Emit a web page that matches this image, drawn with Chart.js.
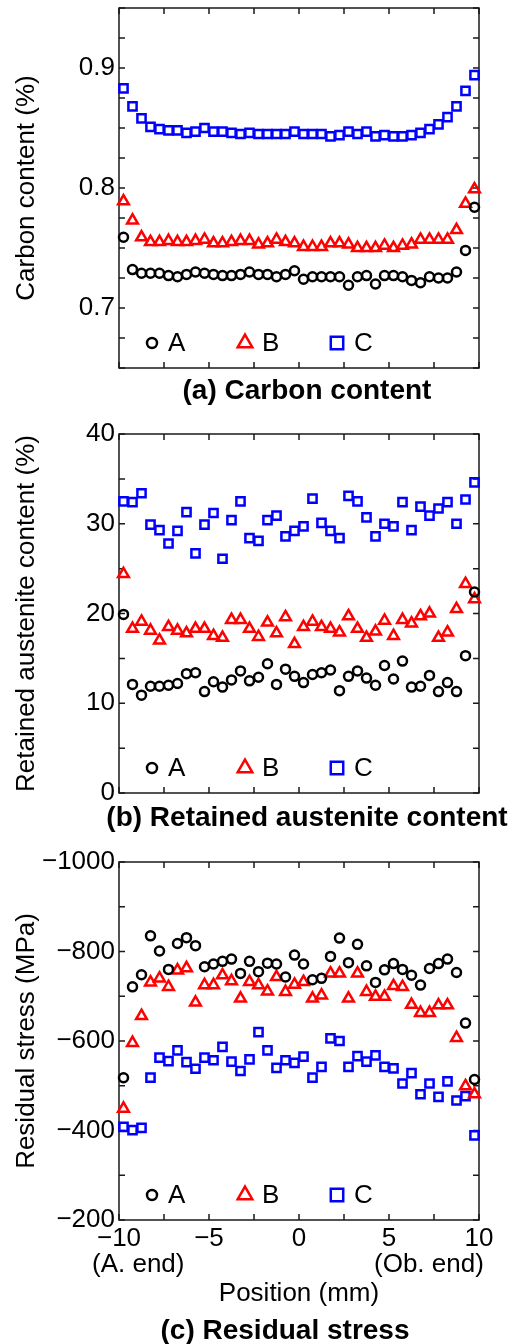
<!DOCTYPE html>
<html>
<head>
<meta charset="utf-8">
<title>Carbon content, retained austenite and residual stress</title>
<script src="https://cdn.jsdelivr.net/npm/chart.js@4.4.1/dist/chart.umd.min.js"></script>
<style>
  html, body { margin: 0; padding: 0; background: #fff; }
  #page { position: relative; width: 509px; height: 1344px; overflow: hidden;
          font-family: "Liberation Sans", Arial, sans-serif; color: #000; }
  #page canvas { position: absolute; left: 0; }
  .caption { position: absolute; width: 500px; text-align: center; white-space: nowrap;
             font-weight: bold; font-size: 28px; line-height: 32px; }
  .endnote { position: absolute; white-space: nowrap; font-size: 26px; line-height: 30px; }
</style>
</head>
<body>
<div id="page">
  <canvas id="carbon" width="509" height="400" style="top:-12px"></canvas>
  <canvas id="austenite" width="509" height="399" style="top:414px"></canvas>
  <canvas id="stress" width="509" height="502" style="top:842px"></canvas>
  <div class="caption" style="left:57px; top:374px">(a) Carbon content</div>
  <div class="caption" style="left:57px; top:801px">(b) Retained austenite content</div>
  <div class="caption" style="left:35px; top:1314px">(c) Residual stress</div>
  <div class="endnote" style="left:92px; top:1248px">(A. end)</div>
  <div class="endnote" style="left:374px; top:1248px">(Ob. end)</div>
</div>
<script>
// measuring positions along the specimen (mm)
const positions = [
  -9.75, -9.25, -8.75, -8.25, -7.75, -7.25, -6.75, -6.25, -5.75, -5.25,
  -4.75, -4.25, -3.75, -3.25, -2.75, -2.25, -1.75, -1.25, -0.75, -0.25,
   0.25,  0.75,  1.25,  1.75,  2.25,  2.75,  3.25,  3.75,  4.25,  4.75,
   5.25,  5.75,  6.25,  6.75,  7.25,  7.75,  8.25,  8.75,  9.25,  9.75
];
const seriesNames = ['A', 'B', 'C'];

// (a) carbon content, %
const carbonA = [
  0.759, 0.732, 0.729, 0.729, 0.729, 0.727, 0.726, 0.728, 0.730, 0.729,
  0.728, 0.727, 0.727, 0.728, 0.730, 0.728, 0.728, 0.726, 0.728, 0.731,
  0.724, 0.726, 0.726, 0.726, 0.726, 0.719, 0.726, 0.727, 0.720, 0.727,
  0.727, 0.726, 0.723, 0.721, 0.726, 0.725, 0.725, 0.730, 0.748, 0.784
];
const carbonB = [
  0.789, 0.773, 0.759, 0.755, 0.755, 0.756, 0.755, 0.755, 0.756, 0.757,
  0.754, 0.754, 0.755, 0.756, 0.756, 0.753, 0.754, 0.757, 0.755, 0.754,
  0.751, 0.751, 0.751, 0.754, 0.754, 0.753, 0.750, 0.750, 0.750, 0.752,
  0.750, 0.752, 0.753, 0.757, 0.757, 0.757, 0.757, 0.765, 0.787, 0.799
];
const carbonC = [
  0.883, 0.868, 0.858, 0.851, 0.849, 0.848, 0.848, 0.846, 0.847, 0.850,
  0.847, 0.847, 0.846, 0.845, 0.846, 0.845, 0.845, 0.845, 0.845, 0.847,
  0.845, 0.845, 0.845, 0.843, 0.844, 0.847, 0.845, 0.847, 0.843, 0.844,
  0.843, 0.843, 0.844, 0.846, 0.849, 0.853, 0.859, 0.868, 0.881, 0.894
];

// (b) retained austenite content, %
const austeniteA = [
  19.9, 12.1, 10.9, 11.9, 11.9, 12.0, 12.2, 13.3, 13.4, 11.3,
  12.4, 11.8, 12.6, 13.6, 12.5, 12.9, 14.4, 12.1, 13.8, 13.0,
  12.3, 13.2, 13.4, 13.7, 11.4, 13.0, 13.6, 12.8, 12.0, 14.2,
  12.7, 14.7, 11.8, 11.9, 13.1, 11.3, 12.3, 11.3, 15.3, 22.4
];
const austeniteB = [
  24.4, 18.3, 19.1, 18.1, 17.0, 18.5, 18.1, 17.8, 18.3, 18.3,
  17.5, 17.3, 19.3, 19.3, 18.3, 17.4, 19.0, 17.8, 19.6, 16.6,
  18.5, 19.1, 18.5, 18.3, 17.9, 19.7, 18.3, 17.3, 18.0, 19.2,
  17.5, 19.3, 18.9, 19.7, 20.0, 17.3, 17.9, 20.5, 23.3, 21.6
];
const austeniteC = [
  32.5, 32.4, 33.4, 29.9, 29.3, 27.8, 29.2, 31.3, 26.7, 29.9,
  31.2, 26.1, 30.4, 32.5, 28.4, 28.1, 30.4, 30.9, 28.6, 29.2,
  29.7, 32.8, 30.1, 29.2, 28.4, 33.1, 32.5, 30.7, 28.6, 30.0,
  29.7, 32.4, 29.3, 31.9, 30.9, 31.7, 32.4, 30.0, 32.7, 34.6
];

// (c) residual stress, MPa
const stressA = [
  -518, -721, -748, -835, -801, -760, -818, -831, -813, -766,
  -772, -778, -783, -751, -778, -755, -774, -772, -743, -792,
  -772, -737, -740, -789, -830, -775, -816, -768, -731, -759,
  -773, -760, -747, -725, -762, -773, -783, -753, -640, -514
];
const stressB = [
  -449, -596, -656, -731, -740, -721, -758, -763, -686, -725,
  -725, -747, -734, -695, -732, -725, -711, -743, -710, -726,
  -732, -695, -702, -751, -751, -695, -751, -710, -699, -699,
  -723, -721, -681, -663, -663, -680, -680, -607, -499, -481
];
const stressC = [
  -408, -401, -406, -518, -563, -555, -579, -553, -538, -563,
  -557, -587, -554, -533, -559, -620, -579, -540, -557, -551,
  -565, -518, -542, -606, -600, -542, -566, -554, -568, -542,
  -539, -505, -528, -481, -505, -475, -510, -467, -477, -389
];

const FONT = '"Liberation Sans", Arial, sans-serif';
Chart.defaults.font.family = FONT;
Chart.defaults.font.size = 26;
Chart.defaults.color = '#000';

// marker look per series: circle / triangle / square
const markers = [
  { style: 'circle',   color: '#000000', radius: 4.5, legendRadius: 5 },
  { style: 'triangle', color: '#ff0000', radius: 6.2, legendRadius: 8.4 },
  { style: 'rect',     color: '#0000ff', radius: 5.8, legendRadius: 8.8 }
];
const legendMarkerX = [33, 126, 218];   // from the left edge of the plot area
const legendTextX = [49, 143, 235];

const minus = v => (v < 0 ? '\u2212' + Math.abs(v) : String(v));

// box around the plot area with inward ticks on all four sides
const frameTicks = {
  id: 'frameTicks',
  beforeDatasetsDraw(chart) {
    const { ctx, chartArea: a, scales } = chart;
    const len = 6;
    ctx.save();
    ctx.strokeStyle = '#1a1a1a';
    ctx.lineWidth = 1.5;
    ctx.beginPath();
    scales.x.ticks.forEach(t => {
      const px = scales.x.getPixelForValue(t.value);
      ctx.moveTo(px, a.bottom); ctx.lineTo(px, a.bottom - len);
      ctx.moveTo(px, a.top); ctx.lineTo(px, a.top + len);
    });
    scales.y.ticks.forEach(t => {
      const py = scales.y.getPixelForValue(t.value);
      ctx.moveTo(a.left, py); ctx.lineTo(a.left + len, py);
      ctx.moveTo(a.right, py); ctx.lineTo(a.right - len, py);
    });
    ctx.stroke();
    ctx.strokeRect(a.left, a.top, a.right - a.left, a.bottom - a.top);
    ctx.restore();
  }
};

// A / B / C key sitting inside the bottom of the plot area
const insideLegend = {
  id: 'insideLegend',
  afterDatasetsDraw(chart) {
    const { ctx, chartArea: a } = chart;
    const y = a.bottom - 25;
    ctx.save();
    ctx.font = '26px ' + FONT;
    ctx.textBaseline = 'middle';
    chart.data.datasets.forEach((ds, i) => {
      ctx.strokeStyle = ds.pointBorderColor;
      ctx.fillStyle = 'rgba(0,0,0,0)';
      ctx.lineWidth = ds.pointBorderWidth;
      Chart.helpers.drawPoint(ctx, {
        pointStyle: ds.pointStyle,
        radius: markers[i].legendRadius,
        rotation: 0,
        borderWidth: ds.pointBorderWidth
      }, a.left + legendMarkerX[i], y);
      ctx.fillStyle = '#000';
      ctx.fillText(ds.label, a.left + legendTextX[i], y + 1);
    });
    ctx.restore();
  }
};

function makeDatasets(values) {
  return values.map((arr, i) => ({
    label: seriesNames[i],
    data: arr.map((v, k) => ({ x: positions[k], y: v })),
    showLine: false,
    pointStyle: markers[i].style,
    pointRadius: markers[i].radius,
    pointBorderWidth: 2.5,
    pointBorderColor: markers[i].color,
    pointBackgroundColor: 'rgba(0,0,0,0)',
    clip: false
  }));
}

function panel(id, cfg) {
  const showX = !!cfg.xTitle;
  return new Chart(document.getElementById(id), {
    type: 'scatter',
    data: { datasets: makeDatasets(cfg.series) },
    plugins: [frameTicks, insideLegend],
    options: {
      responsive: false,
      animation: false,
      events: [],
      layout: { padding: { left: 0, right: 30, top: 20, bottom: 0 } },
      plugins: { legend: { display: false }, tooltip: { enabled: false } },
      scales: {
        x: {
          type: 'linear',
          min: -10,
          max: 10,
          grid: { display: false, drawTicks: false },
          border: { display: false },
          ticks: {
            display: showX,
            stepSize: 2.5,
            autoSkip: false,
            maxRotation: 0,
            padding: 3,
            callback: v => (v % 5 === 0 ? minus(v) : '')
          },
          title: {
            display: showX,
            text: cfg.xTitle || '',
            padding: { top: 0, bottom: 35 }
          },
          afterFit: s => { s.height = cfg.xHeight; }
        },
        y: {
          type: 'linear',
          min: cfg.min,
          max: cfg.max,
          reverse: !!cfg.reverse,
          grid: { display: false, drawTicks: false },
          border: { display: false },
          ticks: {
            stepSize: cfg.step,
            autoSkip: false,
            padding: 4,
            callback: cfg.label
          },
          title: {
            display: true,
            text: cfg.yTitle,
            padding: { top: 11, bottom: 0 }
          },
          afterFit: s => { s.width = 119; }
        }
      }
    }
  });
}

panel('carbon', {
  series: [carbonA, carbonB, carbonC],
  min: 0.65, max: 0.95, step: 0.025,
  label: v => (Math.abs(v * 10 - Math.round(v * 10)) < 1e-6 ? v.toFixed(1) : ''),
  yTitle: 'Carbon content (%)',
  xHeight: 20
});

panel('austenite', {
  series: [austeniteA, austeniteB, austeniteC],
  min: 0, max: 40, step: 5,
  label: v => (v % 10 === 0 ? String(v) : ''),
  yTitle: 'Retained austenite content (%)',
  xHeight: 20
});

panel('stress', {
  series: [stressA, stressB, stressC],
  min: -1000, max: -200, step: 100, reverse: true,
  label: v => (v % 200 === 0 ? minus(v) : ''),
  yTitle: 'Residual stress (MPa)',
  xTitle: 'Position (mm)',
  xHeight: 124
});
</script>
</body>
</html>
